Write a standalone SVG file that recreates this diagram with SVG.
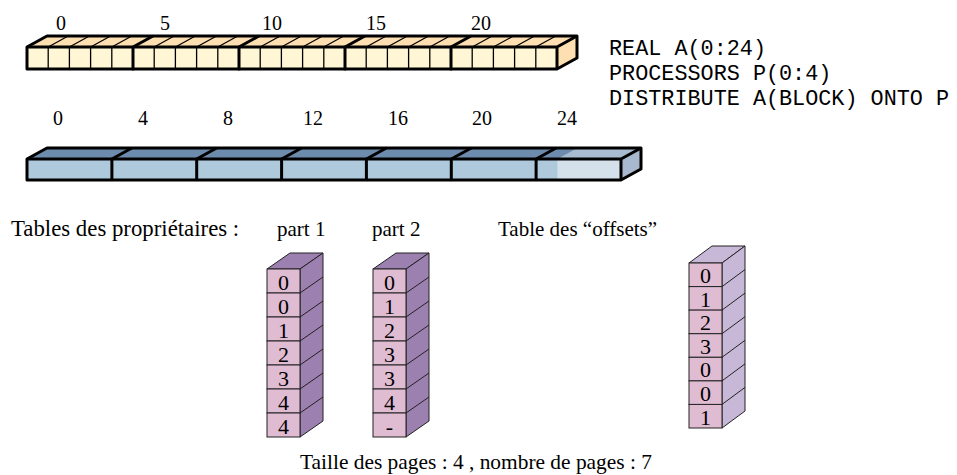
<svg xmlns="http://www.w3.org/2000/svg" width="957" height="475" viewBox="0 0 957 475">
<style>
.t{font-family:"Liberation Serif","Times New Roman",serif;font-size:21px;fill:#000}
.n{font-family:"Liberation Serif","Times New Roman",serif;font-size:20px;fill:#000;text-anchor:middle}
.d{font-family:"Liberation Serif","Times New Roman",serif;font-size:22px;fill:#000;text-anchor:middle}
.c{font-family:"Liberation Mono","Courier New",monospace;font-size:21.8px;fill:#000}
.thick{stroke:#000;stroke-width:3;fill:none;stroke-linejoin:round}
.thin{stroke:#000;stroke-width:1.3;fill:none}
.cellf{fill:#DFBCD2;stroke:#222;stroke-width:1}
.sl{stroke:#222;stroke-width:1;fill:none}
.face1{fill:#9C80B0;stroke:#222;stroke-width:1}
.face2{fill:#C8B8D8;stroke:#222;stroke-width:1}
</style>
<rect width="957" height="475" fill="#fff"/>

<g id="array-A">
  <polygon points="27,47 47,36 577,36 557,47" fill="#FDDFB2"/>
  <polygon points="557,47 577,36 577,58 557,69" fill="#FDDFB2"/>
  <rect x="27" y="47" width="530" height="22" fill="#FFF6D6"/>
  <g class="thin">
    <path d="M48.2,47V69M69.4,47V69M90.6,47V69M111.8,47V69M154.2,47V69M175.4,47V69M196.6,47V69M217.8,47V69M260.2,47V69M281.4,47V69M302.6,47V69M323.8,47V69M366.2,47V69M387.4,47V69M408.6,47V69M429.8,47V69M472.2,47V69M493.4,47V69M514.6,47V69M535.8,47V69"/>
    <path d="M48.2,47l20,-11M69.4,47l20,-11M90.6,47l20,-11M111.8,47l20,-11M154.2,47l20,-11M175.4,47l20,-11M196.6,47l20,-11M217.8,47l20,-11M260.2,47l20,-11M281.4,47l20,-11M302.6,47l20,-11M323.8,47l20,-11M366.2,47l20,-11M387.4,47l20,-11M408.6,47l20,-11M429.8,47l20,-11M472.2,47l20,-11M493.4,47l20,-11M514.6,47l20,-11M535.8,47l20,-11"/>
  </g>
  <g class="thick">
    <path d="M27,47 L47,36 L577,36 L577,58 L557,69 L27,69 Z"/>
    <path d="M27,47 H557 L577,36 M557,47 V69"/>
    <path d="M133,47V69l0,-22 l20,-11 M239,47V69l0,-22 l20,-11 M345,47V69l0,-22 l20,-11 M451,47V69l0,-22 l20,-11"/>
  </g>
  <text class="n" x="61" y="30">0</text>
  <text class="n" x="165" y="30">5</text>
  <text class="n" x="272" y="30">10</text>
  <text class="n" x="376" y="30">15</text>
  <text class="n" x="481" y="30">20</text>
</g>

<g id="code">
  <text class="c" x="609" y="55">REAL A(0:24)</text>
  <text class="c" x="609" y="80">PROCESSORS P(0:4)</text>
  <text class="c" x="609" y="105">DISTRIBUTE A(BLOCK) ONTO P</text>
</g>

<g id="array-P">
  <polygon points="27,159 47,148 641,148 621,159" fill="#6D8BAD"/>
  <polygon points="557.4,159 577.4,148 641,148 621,159" fill="#A8BBD0"/>
  <polygon points="621,159 641,148 641,169 621,180" fill="#A8B9CF"/>
  <rect x="27" y="159" width="594" height="21" fill="#AEC8DC"/>
  <rect x="557.4" y="159" width="63.6" height="21" fill="#D4E0EA"/>
  <g class="thick">
    <path d="M27,159 L47,148 L641,148 L641,169 L621,180 L27,180 Z"/>
    <path d="M27,159 H621 L641,148 M621,159 V180"/>
    <path d="M111.9,180V159l20,-11 M196.7,180V159l20,-11 M281.6,180V159l20,-11 M366.4,180V159l20,-11 M451.3,180V159l20,-11 M536.1,180V159l20,-11"/>
  </g>
  <text class="n" x="58" y="125">0</text>
  <text class="n" x="143" y="125">4</text>
  <text class="n" x="228" y="125">8</text>
  <text class="n" x="313" y="125">12</text>
  <text class="n" x="398" y="125">16</text>
  <text class="n" x="482" y="125">20</text>
  <text class="n" x="567" y="125">24</text>
</g>

<g id="labels">
  <text class="t" x="11" y="236" style="font-size:22.8px">Tables des propriétaires :</text>
  <text class="t" x="277" y="236">part 1</text>
  <text class="t" x="372" y="236">part 2</text>
  <text class="t" x="498" y="236">Table des “offsets”</text>
  <text class="t" x="300" y="469" style="font-size:21.4px">Taille des pages : 4 , nombre de pages : 7</text>
</g>

<g id="table-part1">
  <polygon class="face1" points="267,269 290,253 323,253 300,269"/>
  <polygon class="face1" points="300,269 323,253 323,421 300,437"/>
  <path class="sl" d="M300,293l23,-16M300,317l23,-16M300,341l23,-16M300,365l23,-16M300,389l23,-16M300,413l23,-16"/>
  <rect class="cellf" x="267" y="269" width="33" height="24"/>
  <rect class="cellf" x="267" y="293" width="33" height="24"/>
  <rect class="cellf" x="267" y="317" width="33" height="24"/>
  <rect class="cellf" x="267" y="341" width="33" height="24"/>
  <rect class="cellf" x="267" y="365" width="33" height="24"/>
  <rect class="cellf" x="267" y="389" width="33" height="24"/>
  <rect class="cellf" x="267" y="413" width="33" height="24"/>
  <text class="d" x="283.5" y="290">0</text>
  <text class="d" x="283.5" y="314">0</text>
  <text class="d" x="283.5" y="338">1</text>
  <text class="d" x="283.5" y="362">2</text>
  <text class="d" x="283.5" y="386">3</text>
  <text class="d" x="283.5" y="410">4</text>
  <text class="d" x="283.5" y="434">4</text>
</g>

<g id="table-part2">
  <polygon class="face1" points="373,269 396,253 429,253 406,269"/>
  <polygon class="face1" points="406,269 429,253 429,421 406,437"/>
  <path class="sl" d="M406,293l23,-16M406,317l23,-16M406,341l23,-16M406,365l23,-16M406,389l23,-16M406,413l23,-16"/>
  <rect class="cellf" x="373" y="269" width="33" height="24"/>
  <rect class="cellf" x="373" y="293" width="33" height="24"/>
  <rect class="cellf" x="373" y="317" width="33" height="24"/>
  <rect class="cellf" x="373" y="341" width="33" height="24"/>
  <rect class="cellf" x="373" y="365" width="33" height="24"/>
  <rect class="cellf" x="373" y="389" width="33" height="24"/>
  <rect class="cellf" x="373" y="413" width="33" height="24"/>
  <text class="d" x="389.5" y="290">0</text>
  <text class="d" x="389.5" y="314">1</text>
  <text class="d" x="389.5" y="338">2</text>
  <text class="d" x="389.5" y="362">3</text>
  <text class="d" x="389.5" y="386">3</text>
  <text class="d" x="389.5" y="410">4</text>
  <text class="d" x="389.5" y="434">-</text>
</g>

<g id="table-offsets">
  <polygon class="face2" points="689,263 712,246 745,246 722,263"/>
  <polygon class="face2" points="722,263 745,246 745,411 722,428"/>
  <path class="sl" d="M722,286.6l23,-17M722,310.1l23,-17M722,333.7l23,-17M722,357.3l23,-17M722,380.9l23,-17M722,404.4l23,-17"/>
  <rect class="cellf" x="689" y="263" width="33" height="23.6"/>
  <rect class="cellf" x="689" y="286.6" width="33" height="23.6"/>
  <rect class="cellf" x="689" y="310.1" width="33" height="23.6"/>
  <rect class="cellf" x="689" y="333.7" width="33" height="23.6"/>
  <rect class="cellf" x="689" y="357.3" width="33" height="23.6"/>
  <rect class="cellf" x="689" y="380.9" width="33" height="23.6"/>
  <rect class="cellf" x="689" y="404.4" width="33" height="23.6"/>
  <text class="d" x="705.5" y="283">0</text>
  <text class="d" x="705.5" y="306.6">1</text>
  <text class="d" x="705.5" y="330.2">2</text>
  <text class="d" x="705.5" y="353.8">3</text>
  <text class="d" x="705.5" y="377.4">0</text>
  <text class="d" x="705.5" y="401">0</text>
  <text class="d" x="705.5" y="424.6">1</text>
</g>
</svg>
